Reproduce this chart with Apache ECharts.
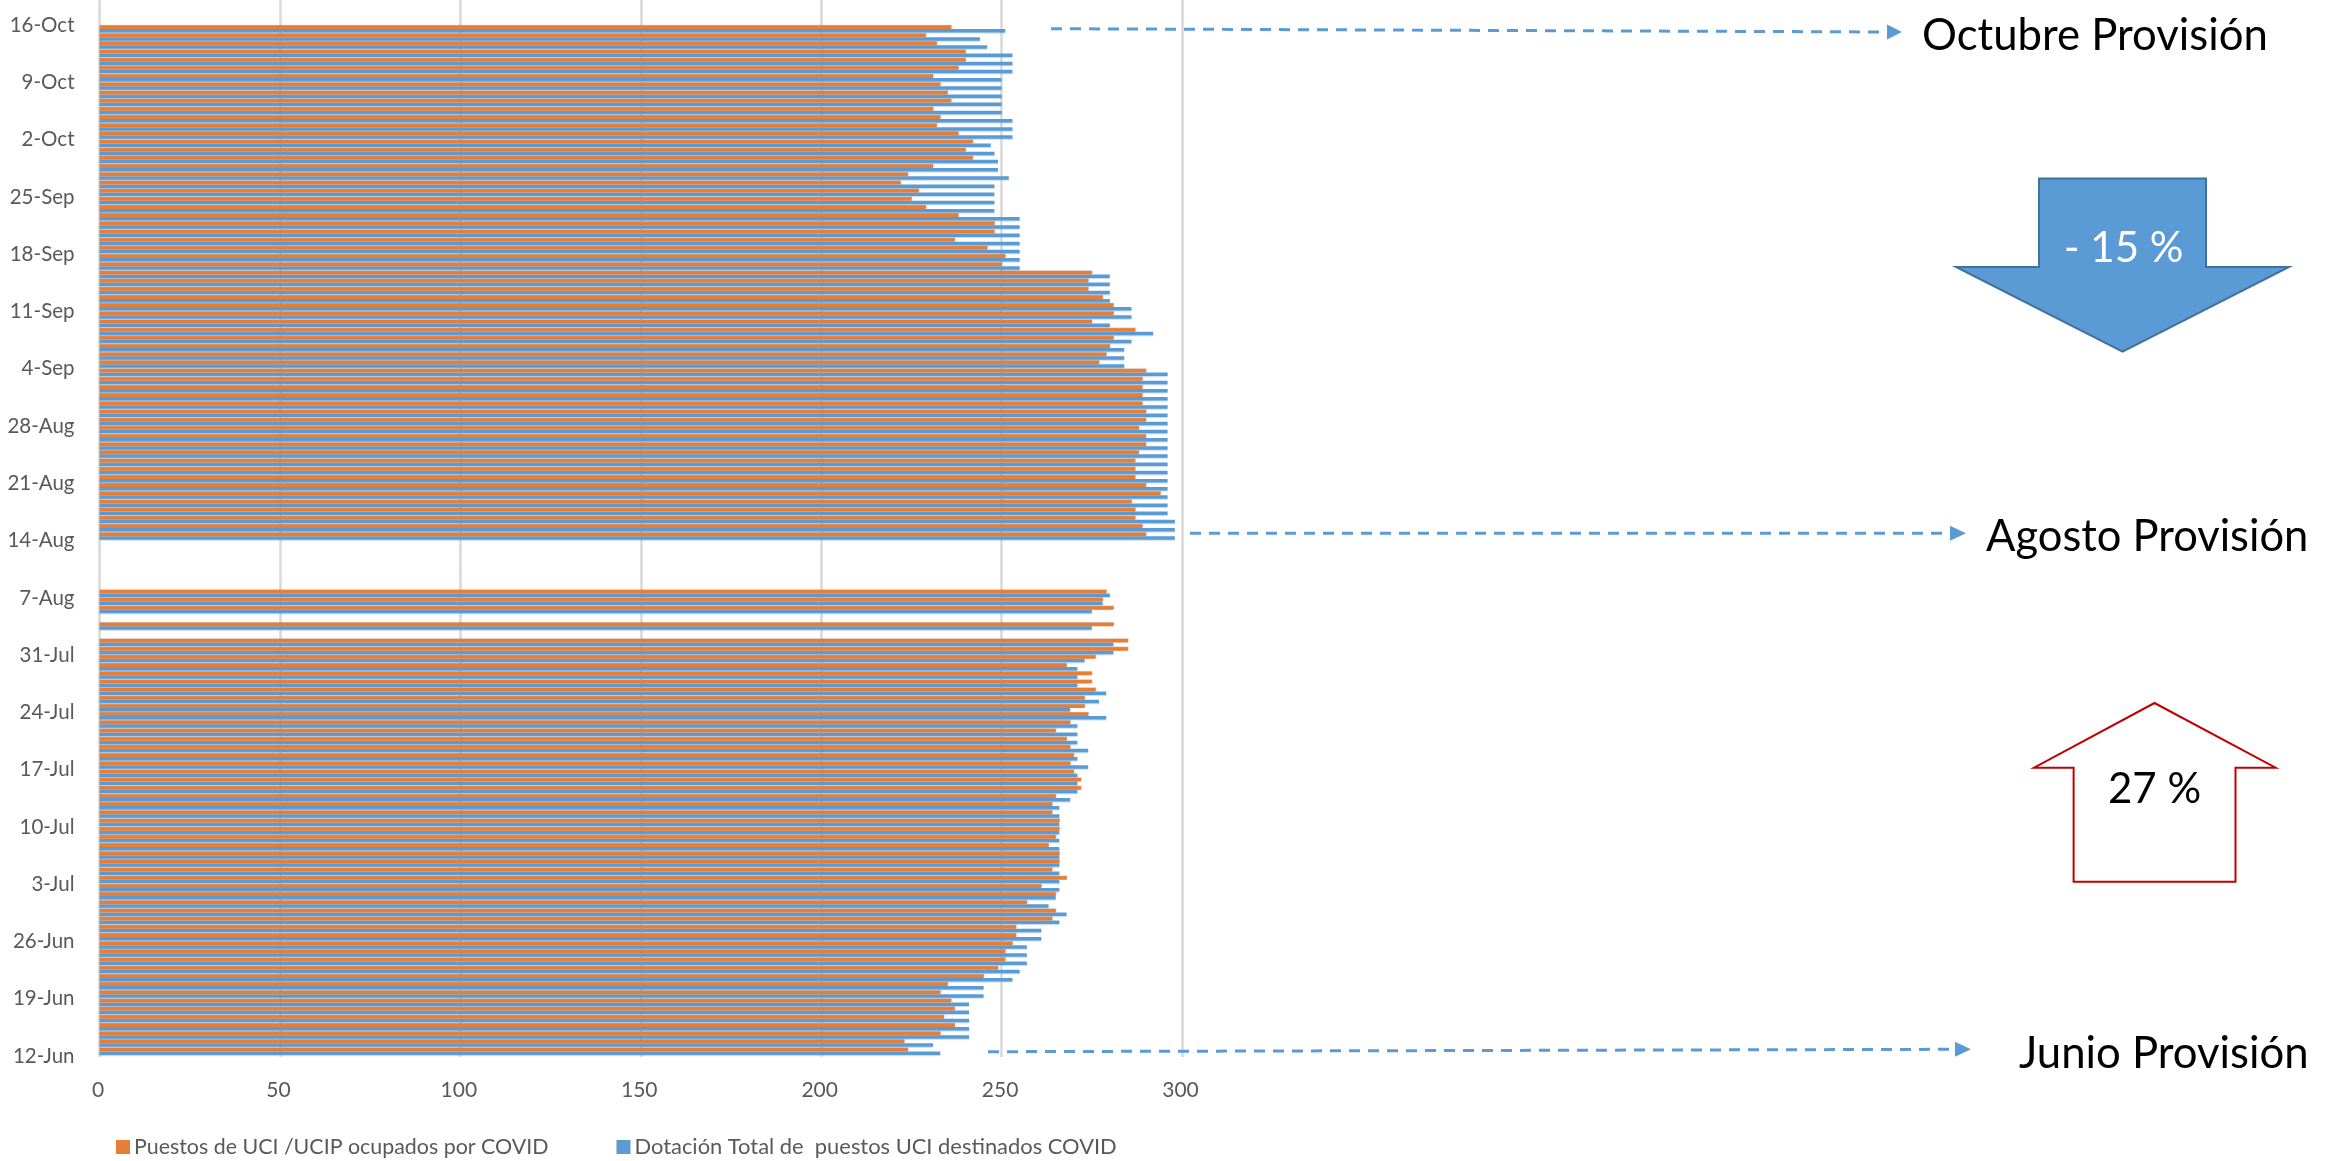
<!DOCTYPE html>
<html><head><meta charset="utf-8">
<style>html,body{margin:0;padding:0;background:#fff}#c{width:2336px;height:1161px}</style>
<script src="https://cdn.jsdelivr.net/npm/echarts@6/dist/echarts.min.js"></script>
</head><body><div id="c"></div>
<script>
const fechas = ['16-Oct','15-Oct','14-Oct','13-Oct','12-Oct','11-Oct','10-Oct','9-Oct','8-Oct','7-Oct','6-Oct','5-Oct','4-Oct','3-Oct','2-Oct','1-Oct',
'30-Sep','29-Sep','28-Sep','27-Sep','26-Sep','25-Sep','24-Sep','23-Sep','22-Sep','21-Sep','20-Sep','19-Sep','18-Sep','17-Sep','16-Sep','15-Sep','14-Sep','13-Sep','12-Sep','11-Sep','10-Sep','9-Sep','8-Sep','7-Sep','6-Sep','5-Sep','4-Sep','3-Sep','2-Sep','1-Sep',
'31-Aug','30-Aug','29-Aug','28-Aug','27-Aug','26-Aug','25-Aug','24-Aug','23-Aug','22-Aug','21-Aug','20-Aug','19-Aug','18-Aug','17-Aug','16-Aug','15-Aug','14-Aug','13-Aug','12-Aug','11-Aug','10-Aug','9-Aug','8-Aug','7-Aug','6-Aug','5-Aug','4-Aug','3-Aug','2-Aug','1-Aug',
'31-Jul','30-Jul','29-Jul','28-Jul','27-Jul','26-Jul','25-Jul','24-Jul','23-Jul','22-Jul','21-Jul','20-Jul','19-Jul','18-Jul','17-Jul','16-Jul','15-Jul','14-Jul','13-Jul','12-Jul','11-Jul','10-Jul','9-Jul','8-Jul','7-Jul','6-Jul','5-Jul','4-Jul','3-Jul','2-Jul','1-Jul',
'30-Jun','29-Jun','28-Jun','27-Jun','26-Jun','25-Jun','24-Jun','23-Jun','22-Jun','21-Jun','20-Jun','19-Jun','18-Jun','17-Jun','16-Jun','15-Jun','14-Jun','13-Jun','12-Jun'];
const ocupados = [null,236,229,232,240,240,238,231,233,235,236,231,233,232,238,242,240,242,231,224,222,227,225,229,238,248,248,237,246,251,250,275,274,274,278,281,281,275,287,281,280,279,277,290,289,289,289,289,290,290,288,290,290,288,287,287,287,290,294,286,287,287,289,290,
null,null,null,null,null,null,279,278,281,null,281,null,285,285,276,268,275,275,276,273,273,274,269,265,268,269,270,269,270,272,272,265,264,264,266,266,265,263,266,266,264,268,261,265,257,265,264,254,254,253,251,251,249,245,235,233,236,237,234,237,233,223,224];
const dotacion = [null,251,244,246,253,253,253,250,250,250,250,250,253,253,253,247,248,249,249,252,248,248,248,248,255,255,255,255,255,255,255,280,280,280,280,286,286,280,292,286,284,284,284,296,296,296,296,296,296,296,296,296,296,296,296,296,296,296,296,296,296,298,298,298,
null,null,null,null,null,null,280,278,275,null,275,null,281,281,273,271,271,271,279,277,269,279,271,271,271,274,271,274,271,271,271,269,266,266,266,266,266,266,266,266,266,266,266,265,263,268,266,261,261,257,257,257,255,253,245,245,241,241,241,241,241,231,233];
const nombreOcupados = 'Puestos de UCI /UCIP ocupados por COVID';
const nombreDotacion = 'Dotación Total de  puestos UCI destinados COVID';
const FONT = 'Lato';
const AZUL = '#5B9BD5', NARANJA = '#E87D36';

function flecha(pts){
  const [x1,y1,x2,y2,tip] = pts;
  return [
    {type:'line',z:20,shape:{x1,y1,x2,y2},style:{stroke:AZUL,lineWidth:3,lineDash:[11,8]}},
    {type:'polygon',z:20,shape:{points:[[x2,y2-7.5],[tip,y2],[x2,y2+7.5]]},style:{fill:AZUL}}
  ];
}
function rotulo(text,x,y,size,color){
  return {type:'text',z:21,x,y,style:{text,font:size+'px '+FONT,fill:color||'#000',align:'left',verticalAlign:'middle'}};
}
const graficos = [
  ...flecha([1051,28.7,1887,32,1902]),
  ...flecha([1190,533.3,1950,533.3,1966]),
  ...flecha([988,1051.7,1955,1049.3,1971]),
  rotulo('Octubre Provisión',1922,36,43.7),
  rotulo('Agosto Provisión',1986,537,43.5),
  rotulo('Junio Provisión',2019,1054,43.7),
  {type:'polygon',z:15,shape:{points:[[2039,178.5],[2206,178.5],[2206,267],[2289,267],[2122.6,351.7],[1956,267],[2039,267]]},style:{fill:AZUL,stroke:'#41719C',lineWidth:2}},
  rotulo('- 15 %',2064,248,42,'#fff'),
  {type:'polygon',z:15,shape:{points:[[2154.5,703],[2275.6,767.7],[2235.5,767.7],[2235.5,881.7],[2073.6,881.7],[2073.6,767.7],[2034,767.7]]},style:{fill:'#fff',stroke:'#C00000',lineWidth:2}},
  rotulo('27 %',2108,789,42)
];

const chart = echarts.init(document.getElementById('c'),null,{renderer:'canvas'});
chart.setOption({
  animation:false,
  backgroundColor:'#fff',
  textStyle:{fontFamily:FONT},
  grid:[
    {left:99.5,width:1082.5,top:16.7,height:1038.9,containLabel:false},
    {left:99.5,width:1082.5,top:0,height:1057,containLabel:false}
  ],
  xAxis:[
    {gridIndex:0,type:'value',min:0,max:300,interval:50,show:false},
    {gridIndex:1,type:'value',min:0,max:300,interval:50,position:'bottom',
     axisLine:{show:false},axisTick:{show:false},
     axisLabel:{color:'#595959',fontSize:21,fontFamily:FONT,margin:23,padding:[0,3,0,0]},
     splitLine:{show:true,lineStyle:{color:'#D9D9D9',width:2.5}}}
  ],
  yAxis:[
    {gridIndex:0,type:'category',inverse:true,data:fechas,
     axisLine:{show:false},axisTick:{show:false},
     axisLabel:{interval:6,color:'#595959',fontSize:20.5,fontFamily:FONT,margin:25,verticalAlign:'top',lineHeight:9},
     splitLine:{show:false}},
    {gridIndex:1,type:'value',min:0,max:1,show:false,splitLine:{show:false}}
  ],
  legend:{left:111,top:1131,itemWidth:14,itemHeight:14,itemGap:68,
    icon:'rect',
    textStyle:{color:'#595959',fontSize:21.4,fontFamily:FONT,padding:[0,0,0,-1]},
    data:[nombreOcupados,{name:nombreDotacion,textStyle:{fontSize:21.9}}]},
  series:[
    {name:nombreOcupados,type:'bar',xAxisIndex:0,yAxisIndex:0,data:ocupados,barWidth:3.5,barGap:'0%',z:3,
     itemStyle:{color:NARANJA,shadowColor:'rgba(150,80,30,.5)',shadowBlur:1,shadowOffsetX:0.5,shadowOffsetY:-0.5}},
    {name:nombreDotacion,type:'bar',xAxisIndex:0,yAxisIndex:0,data:dotacion,barWidth:3.5,z:2,
     itemStyle:{color:AZUL,shadowColor:'rgba(91,155,213,.35)',shadowBlur:1,shadowOffsetX:0,shadowOffsetY:1}}
  ],
  graphic:{elements:graficos}
});
</script></body></html>
